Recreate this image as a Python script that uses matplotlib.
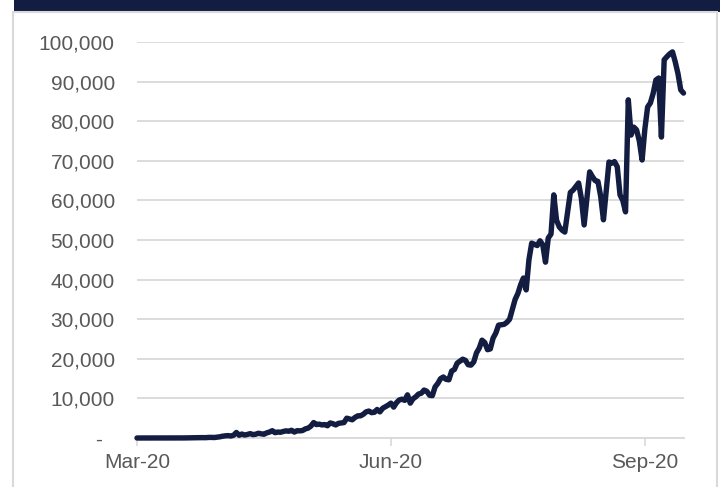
import numpy as np
import pandas as pd
import matplotlib
matplotlib.use("Agg")
import matplotlib.pyplot as plt
import matplotlib.dates as mdates
from matplotlib.patches import Rectangle
from matplotlib.ticker import FuncFormatter, MultipleLocator

plt.rcParams['font.family'] = ['Liberation Sans', 'DejaVu Sans']

# daily new cases, one value per day from 1 March 2020
mar = [0, 0, 2, 22, 1, 2, 1, 5, 9, 15, 8, 10, 9, 20, 20, 13, 23, 15, 30, 50,
       75, 70, 100, 90, 80, 90, 150, 150, 120, 200, 300]
apr = [450, 550, 600, 500, 700, 1400, 700, 1000, 750, 900, 1100, 850, 950, 1200,
       1050, 950, 1300, 1500, 1850, 1350, 1500, 1450, 1650, 1800, 1700, 1950,
       1500, 1850, 1800, 1900]
may = [2300, 2500, 3000, 3900, 3400, 3500, 3300, 3400, 3100, 3800, 3600, 3300,
       3700, 3800, 3900, 5000, 4800, 4600, 5200, 5600, 5600, 6000, 6600, 6800,
       6400, 6500, 7200, 6600, 7500, 7900, 8300]
jun = [8800, 7800, 8900, 9600, 9800, 9500, 10900, 8800, 9900, 10400, 11100,
       11300, 12100, 11800, 10800, 10700, 12900, 13800, 15000, 15400, 14800,
       14700, 16900, 17300, 18900, 19400, 19900, 19600, 18500, 18400]
jul = [19200, 21500, 22700, 24700, 24100, 22300, 22500, 25200, 26500, 28500,
       28600, 28700, 29200, 30000, 32500, 35000, 36500, 38700, 40400, 37400,
       45000, 49200, 48900, 48600, 49800, 48800, 44400, 50500, 51500, 61400, 55000]
aug = [53300, 52500, 52000, 57000, 62000, 62600, 63500, 64400, 60500, 53800,
       60500, 67200, 66000, 65000, 64800, 61000, 55100, 62500, 69700, 69400,
       69800, 68500, 61400, 60000, 57100, 85400, 76500, 78500, 77800, 75000, 70200]
sep = [78000, 83600, 84600, 87000, 90400, 90900, 76000, 95500, 96300, 97000,
       97500, 95000, 92000, 87900, 87100]

cases = mar + apr + may + jun + jul + aug + sep
dates = pd.date_range('2020-03-01', periods=len(cases), freq='D')
tick_dates = pd.to_datetime(['2020-03-01', '2020-06-01', '2020-09-01'])

W, H = 720, 487
fig = plt.figure(figsize=(W / 100, H / 100), dpi=100)
fig.patch.set_facecolor('white')

# header strip and panel frame
fig.add_artist(Rectangle((14 / W, 1 - 12 / H), 1, 12 / H, transform=fig.transFigure,
                         facecolor='#131d41', edgecolor='none'))
fig.add_artist(Rectangle((12.5 / W, -0.02), (717 - 12.5) / W, 1 - 12 / H + 0.02,
                         transform=fig.transFigure, facecolor='none',
                         edgecolor='#d9d9d9', linewidth=1.5))

ax = fig.add_axes([137 / W, 1 - 438 / H, (683.5 - 137) / W, (438 - 42) / H])
ax.plot(dates, cases, color='#131d41', linewidth=3.9,
        solid_capstyle='round', solid_joinstyle='round', clip_on=False, zorder=3)

ax.set_xlim(pd.Timestamp('2020-03-01'), pd.Timestamp('2020-09-15'))
ax.set_ylim(0, 100000)

ax.yaxis.set_major_locator(MultipleLocator(10000))
ax.yaxis.set_major_formatter(FuncFormatter(
    lambda v, p: '-  ' if v == 0 else f'{v:,.0f}'))
ax.set_xticks(tick_dates)
ax.xaxis.set_major_formatter(mdates.DateFormatter('%b-%y'))

ax.grid(axis='y', color='#d9d9d9', linewidth=1.3)
ax.set_axisbelow(True)
for s in ['top', 'right', 'left']:
    ax.spines[s].set_visible(False)
ax.spines['bottom'].set_color('#d9d9d9')
ax.spines['bottom'].set_linewidth(1.3)

ax.tick_params(axis='y', length=0, pad=16, labelsize=15, labelcolor='#595959')
ax.tick_params(axis='x', length=6, width=1.2, color='#d9d9d9', pad=5,
               labelsize=15, labelcolor='#595959')

fig.savefig('out.png', dpi=100)
